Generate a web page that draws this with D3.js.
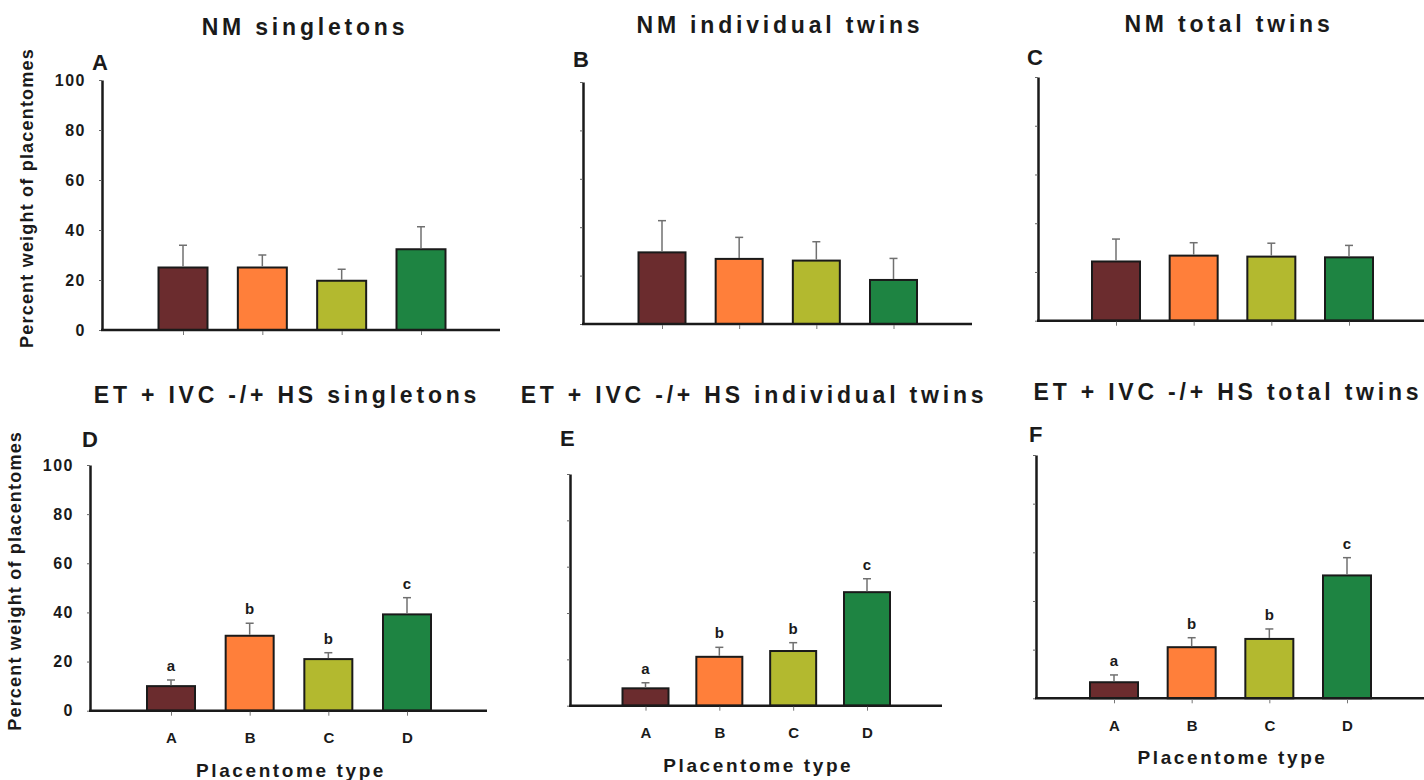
<!DOCTYPE html>
<html>
<head>
<meta charset="utf-8">
<script src="https://cdn.jsdelivr.net/npm/d3@7"></script>
<style>
  body { margin: 0; background: #fff; }
  svg { display: block; font-family: "Liberation Sans", Arial, sans-serif; font-weight: bold; }
</style>
</head>
<body>
<div id="chart"></div>
<script>
// values
const categories = ["A", "B", "C", "D"];
const yTicks = [0, 20, 40, 60, 80, 100];
const panelLetters = ["A", "B", "C", "D", "E", "F"];
const titles = [
    "NM singletons", "NM individual twins", "NM total twins",
    "ET + IVC -/+ HS singletons", "ET + IVC -/+ HS individual twins", "ET + IVC -/+ HS total twins"
];
const sigLetters = ["a", "b", "b", "c"];

const nmSingletonsMean = [25, 25, 19.7, 32.3];
const nmSingletonsSem = [8.9, 5, 4.6, 9];
const nmIndividualMean = [29.6, 26.9, 26.2, 18.2];
const nmIndividualSem = [13.1, 8.9, 7.8, 8.9];
const nmTotalMean = [24.3, 26.7, 26.3, 26.0];
const nmTotalSem = [9.2, 5.3, 5.5, 4.9];
const etSingletonsMean = [10, 30.5, 21, 39.2];
const etSingletonsSem = [2.5, 5.1, 2.6, 6.8];
const etIndividualMean = [7.5, 21.1, 23.6, 49];
const etIndividualSem = [2.4, 4.1, 3.6, 5.8];
const etTotalMean = [6.6, 21, 24.4, 50.5];
const etTotalSem = [3, 3.9, 4.1, 7.3];

const barColors = ["#6b2c2e", "#ff7f3a", "#b3b92f", "#1e8442"];

const means = [nmSingletonsMean, nmIndividualMean, nmTotalMean, etSingletonsMean, etIndividualMean, etTotalMean];
const sems = [nmSingletonsSem, nmIndividualSem, nmTotalSem, etSingletonsSem, etIndividualSem, etTotalSem];

// panel geometry (pixels)
const layout = [
    { x0: 102, yTop: 80, y0: 330, xEnd: 500, c1: 183, c4: 421, bw: 49, title: [305, 35], letter: [92, 70] },
    { x0: 583, yTop: 82, y0: 324, xEnd: 972, c1: 662, c4: 893.5, bw: 47, title: [780, 33], letter: [573, 67] },
    { x0: 1038, yTop: 77, y0: 320.7, xEnd: 1424, c1: 1116, c4: 1349, bw: 48, title: [1229, 32], letter: [1027, 65] },
    { x0: 90, yTop: 465, y0: 710.7, xEnd: 487, c1: 171, c4: 407, bw: 48, title: [287, 403], letter: [82, 447] },
    { x0: 570, yTop: 474, y0: 705.7, xEnd: 942, c1: 645.5, c4: 867, bw: 46, title: [754, 403], letter: [560, 446] },
    { x0: 1036, yTop: 455, y0: 698.3, xEnd: 1424, c1: 1114, c4: 1347, bw: 48, title: [1228, 400], letter: [1029, 442] }
];

const svg = d3.select("#chart").append("svg")
    .attr("width", 1424)
    .attr("height", 780);

layout.forEach((p, i) => {
    const bottomRow = i >= 3;
    const leftCol = i % 3 === 0;
    const g = svg.append("g");

    const x = d3.scalePoint().domain(categories).range([p.c1, p.c4]);
    const y = d3.scaleLinear().domain([0, 100]).range([p.y0, p.yTop]);

    const rows = categories.map((c, j) => ({ cat: c, mean: means[i][j], sem: sems[i][j], color: barColors[j], sig: sigLetters[j] }));

    // title and panel letter
    g.append("text")
        .attr("x", p.title[0]).attr("y", p.title[1])
        .attr("text-anchor", "middle")
        .attr("font-size", "23px")
        .attr("letter-spacing", "3.8px")
        .attr("fill", "#1a1a1a")
        .text(titles[i]);

    g.append("text")
        .attr("x", p.letter[0]).attr("y", p.letter[1])
        .attr("font-size", "22px")
        .attr("fill", "#1a1a1a")
        .text(panelLetters[i]);

    // y axis
    const yAxis = d3.axisLeft(y)
        .tickValues(yTicks)
        .tickSize(3)
        .tickSizeOuter(0)
        .tickPadding(13)
        .tickFormat(leftCol ? d3.format("d") : "");

    const ya = g.append("g")
        .attr("transform", `translate(${p.x0},0)`)
        .call(yAxis);
    ya.select(".domain").attr("stroke", "#1a1a1a").attr("stroke-width", 2.5);
    ya.selectAll(".tick line").attr("stroke", "#666").attr("stroke-width", 1);
    ya.selectAll(".tick text")
        .attr("font-size", "16px")
        .attr("letter-spacing", "1.5px")
        .attr("font-family", "Liberation Sans, Arial, sans-serif")
        .attr("font-weight", "bold")
        .attr("fill", "#1a1a1a");

    // bars
    g.selectAll(".bar")
        .data(rows)
        .enter()
        .append("rect")
        .attr("class", "bar")
        .attr("x", d => x(d.cat) - p.bw / 2)
        .attr("y", d => y(d.mean))
        .attr("width", p.bw)
        .attr("height", d => y(0) - y(d.mean))
        .attr("fill", d => d.color)
        .attr("stroke", "#1a1a1a")
        .attr("stroke-width", 2);

    // error bars (upper only)
    const err = g.selectAll(".err")
        .data(rows)
        .enter()
        .append("g")
        .attr("class", "err")
        .attr("stroke", "#707070")
        .attr("stroke-width", 1.5);

    err.append("line")
        .attr("x1", d => x(d.cat)).attr("x2", d => x(d.cat))
        .attr("y1", d => y(d.mean) - 1)
        .attr("y2", d => y(d.mean + d.sem));

    err.append("line")
        .attr("x1", d => x(d.cat) - 4).attr("x2", d => x(d.cat) + 4)
        .attr("y1", d => y(d.mean + d.sem))
        .attr("y2", d => y(d.mean + d.sem));

    // x axis line
    g.append("line")
        .attr("x1", p.x0 - 1).attr("x2", p.xEnd)
        .attr("y1", y(0)).attr("y2", y(0))
        .attr("stroke", "#1a1a1a")
        .attr("stroke-width", 2.5);

    const xAxis = d3.axisBottom(x)
        .tickSize(4)
        .tickSizeOuter(0)
        .tickPadding(bottomRow ? 17 : 3)
        .tickFormat(bottomRow ? (d => d) : "");

    const xa = g.append("g")
        .attr("transform", `translate(0,${y(0) + 1})`)
        .call(xAxis);
    xa.select(".domain").remove();
    xa.selectAll(".tick line").attr("stroke", "#777").attr("stroke-width", 1);
    xa.selectAll(".tick text")
        .attr("font-size", "15px")
        .attr("font-family", "Liberation Sans, Arial, sans-serif")
        .attr("font-weight", "bold")
        .attr("fill", "#1a1a1a");

    if (bottomRow) {
        // significance letters
        g.selectAll(".sig")
            .data(rows)
            .enter()
            .append("text")
            .attr("class", "sig")
            .attr("x", d => x(d.cat))
            .attr("y", d => y(d.mean + d.sem) - 9)
            .attr("text-anchor", "middle")
            .attr("font-size", "15px")
            .attr("fill", "#1a1a1a")
            .text(d => d.sig);

        g.append("text")
            .attr("x", (p.c1 + p.c4) / 2 + 2)
            .attr("y", y(0) + 66)
            .attr("text-anchor", "middle")
            .attr("font-size", "19px")
            .attr("letter-spacing", "2.6px")
            .attr("fill", "#1a1a1a")
            .text("Placentome type");
    }

    if (leftCol) {
        g.append("text")
            .attr("transform", `translate(${p.x0 - 69},${(p.yTop + p.y0) / 2 - 7}) rotate(-90)`)
            .attr("text-anchor", "middle")
            .attr("font-size", "18px")
            .attr("letter-spacing", "1.2px")
            .attr("fill", "#1a1a1a")
            .text("Percent weight of placentomes");
    }
});
</script>
</body>
</html>
